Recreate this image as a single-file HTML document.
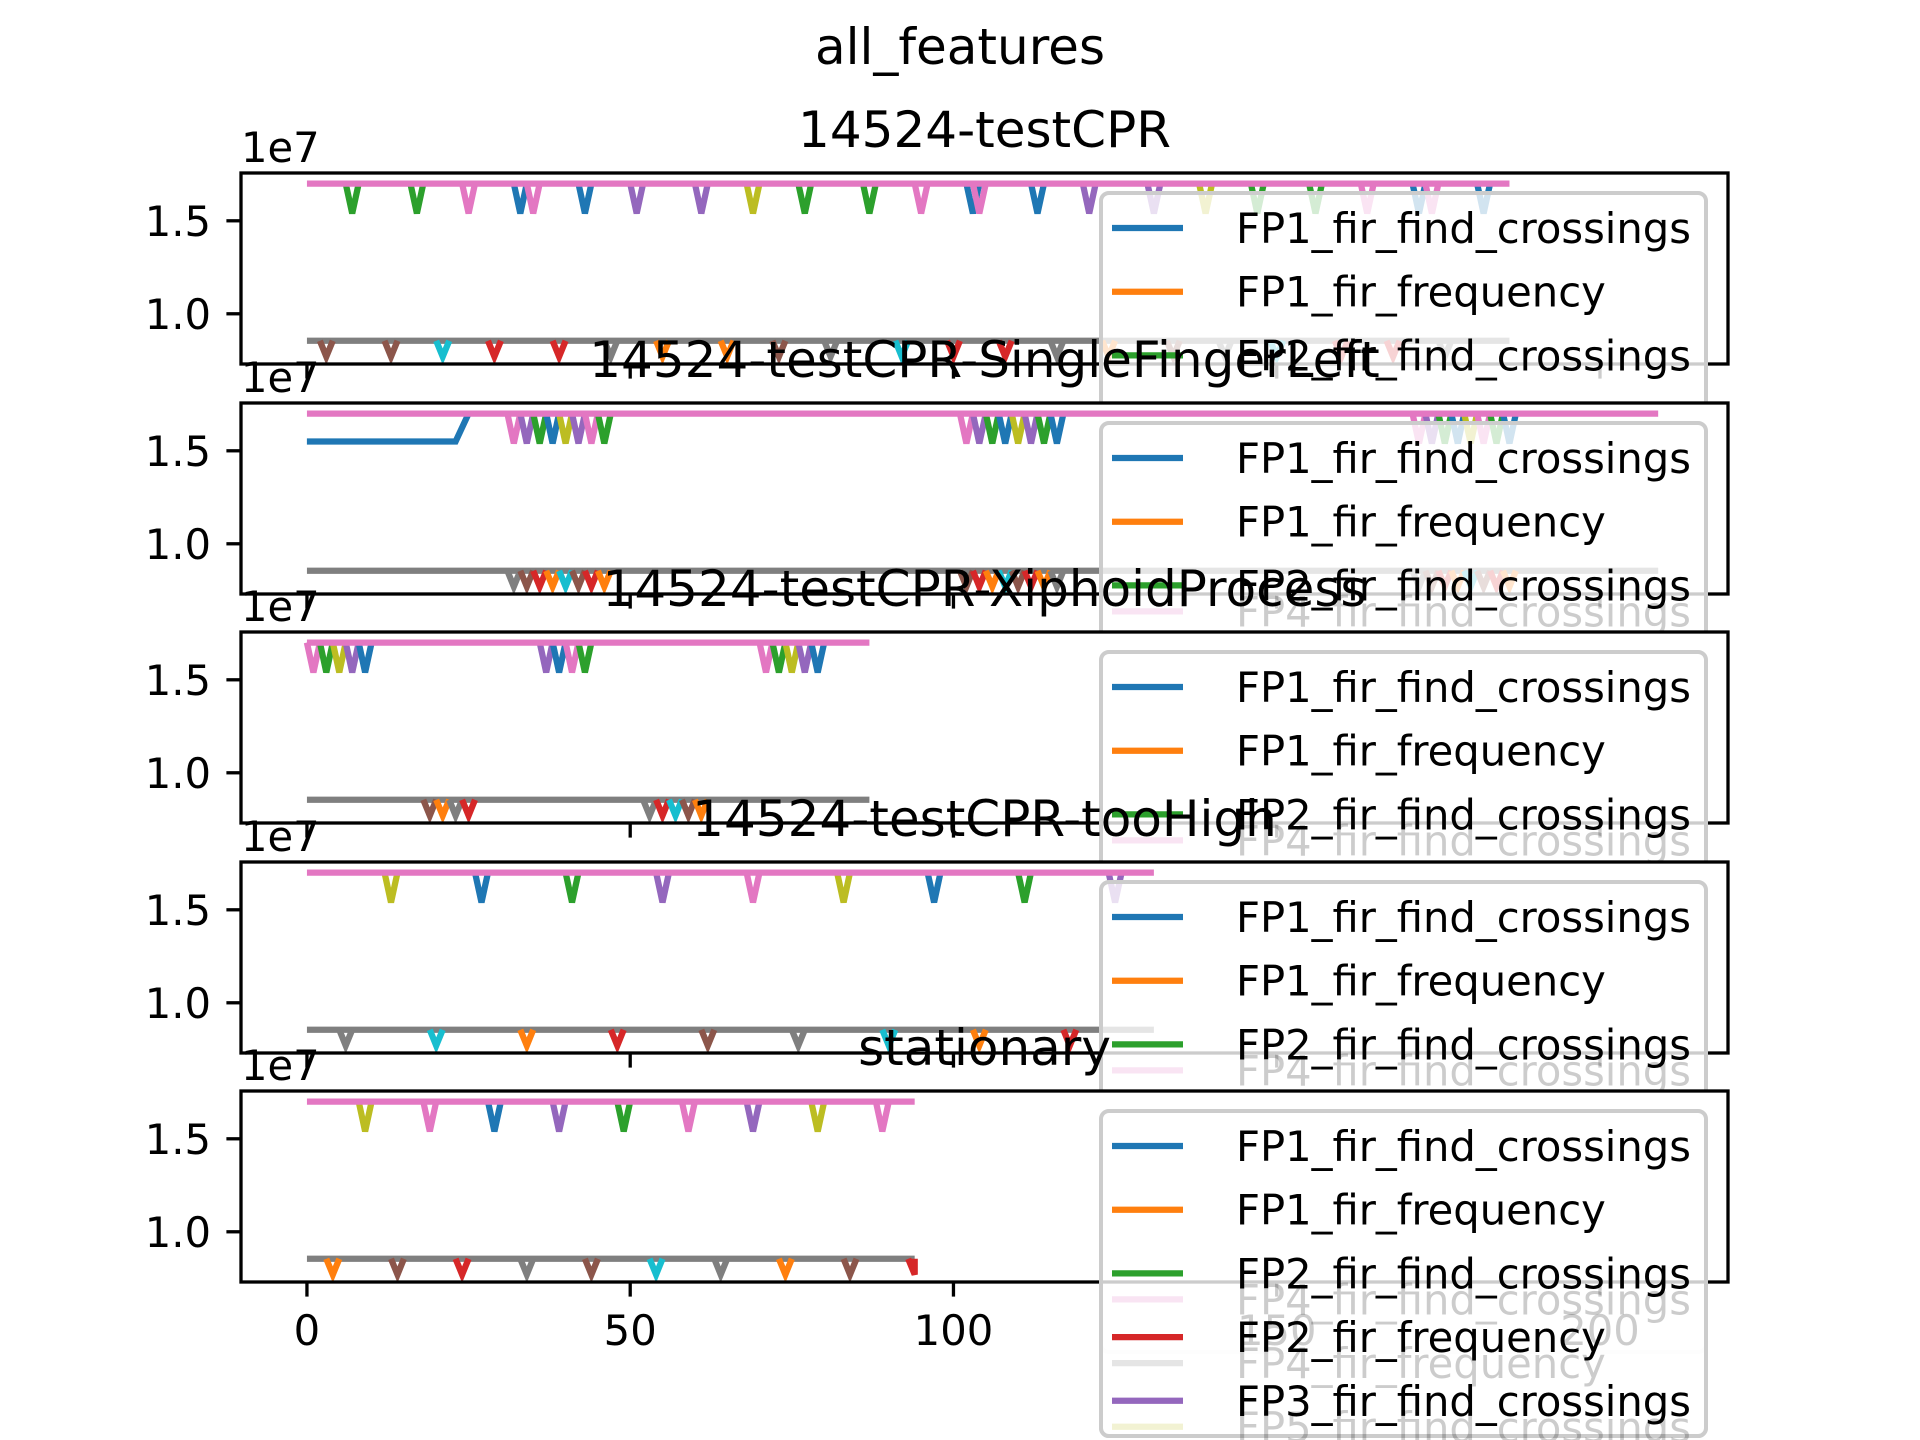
<!DOCTYPE html>
<html><head><meta charset="utf-8"><style>
html,body{margin:0;padding:0;background:#fff;width:1920px;height:1440px;overflow:hidden;}
svg{display:block;font-family:"DejaVu Sans","Liberation Sans",sans-serif;}
</style></head><body>
<svg id="fig" width="1920" height="1440" viewBox="0 0 1920 1440" xmlns="http://www.w3.org/2000/svg" overflow="hidden">
<rect x="0" y="0" width="1920" height="1440" fill="#fff"/>
<text x="960" y="64" font-size="50" text-anchor="middle">all_features</text>
</svg>
<script>
// ---- data ----
const panelTitles = ["14524-testCPR","14524-testCPR-SingleFingerLeft","14524-testCPR-XiphoidProcess","14524-testCPR-tooHigh","stationary"];
const panelLengths = [187, 210, 88, 132, 95];
const topLevel = 1.70, topDip = 1.54, botLevel = 0.855, botDip = 0.77; // x1e7
const p1TopX = [7,17,25,33,35,43,51,61,69,77,87,95,103,104,113,121,131,139,147,156,164,172,174,182];
const p1TopC = ["green","green","pink","blue","pink","blue","purple","purple","olive","green","green","pink","blue","pink","blue","purple","purple","olive","green","green","pink","blue","pink","blue"];
const p1BotX = [3,13,21,29,39,47,55,65,73,81,92,100,108,116,124,134,142,150,160,168,176];
const p1BotC = ["brown","brown","cyan","red","red","gray","orange","orange","brown","gray","cyan","red","red","gray","orange","brown","gray","cyan","red","red","gray"];
const p2TopX = [32,34,36,38,40,42,44,46,102,104,106,108,110,112,114,116,172,174,176,178,180,182,184,186];
const p2TopC = ["pink","purple","green","blue","olive","purple","pink","green","pink","purple","green","blue","olive","purple","green","blue","pink","purple","green","blue","olive","pink","green","blue"];
const p2BotX = [32,34,36,38,40,42,44,46,102,104,106,108,110,112,114,116,172,174,176,178,180,182,184,186];
const p2BotC = ["gray","brown","red","orange","cyan","brown","red","orange","brown","red","orange","cyan","brown","red","orange","gray","gray","brown","red","orange","cyan","brown","red","orange"];
const p3TopX = [1,3,5,7,9,37,39,41,43,71,73,75,77,79];
const p3TopC = ["pink","green","olive","purple","blue","purple","blue","pink","green","pink","green","olive","purple","blue"];
const p3BotX = [19,21,23,25,53,55,57,59,61];
const p3BotC = ["brown","orange","gray","red","gray","red","cyan","brown","orange"];
const p4TopX = [13,27,41,55,69,83,97,111,125];
const p4TopC = ["olive","blue","green","purple","pink","olive","blue","green","purple"];
const p4BotX = [6,20,34,48,62,76,90,104,118];
const p4BotC = ["gray","cyan","orange","red","brown","gray","cyan","orange","red"];
const p5TopX = [9,19,29,39,49,59,69,79,89];
const p5TopC = ["olive","pink","blue","purple","green","pink","purple","olive","pink"];
const p5BotX = [4,14,24,34,44,54,64,74,84,94];
const p5BotC = ["orange","brown","red","gray","brown","cyan","gray","orange","brown","red"];
const yTicks = [1.0, 1.5];
const yTickLabels = ["1.0","1.5"];
const xTicks = [0, 50, 100, 150, 200];
const xTickLabels = ["0","50","100","150","200"];
const legendLabels = ["FP1_fir_find_crossings","FP1_fir_frequency","FP2_fir_find_crossings","FP2_fir_frequency","FP3_fir_find_crossings"];
const legendColors = ["blue","orange","green","red","purple"];
const fadedLabels = ["FP4_fir_find_crossings","FP4_fir_frequency","FP5_fir_find_crossings"];
const fadedColors = ["pink","gray","olive"];

// ---- layout ----
const COL = {blue:"#1f77b4",orange:"#ff7f0e",green:"#2ca02c",red:"#d62728",purple:"#9467bd",brown:"#8c564b",pink:"#e377c2",gray:"#7f7f7f",olive:"#bcbd22",cyan:"#17becf"};
const AX_L = 241, AX_R = 1728, AX_H = 191;
const TOPS = [173, 403, 632, 862, 1091];
const XMIN = -10.2, XMAX = 219.8, YMIN = 0.73, YMAX = 1.757;
const NS = "http://www.w3.org/2000/svg";
const svg = document.getElementById("fig");
function xs(d){ return AX_L + (d - XMIN) / (XMAX - XMIN) * (AX_R - AX_L); }
function ys(v, top){ return top + (YMAX - v) / (YMAX - YMIN) * AX_H; }
function mk(tag, attrs, parent){
  const e = document.createElementNS(NS, tag);
  for (const k in attrs) e.setAttribute(k, attrs[k]);
  (parent || svg).appendChild(e);
  return e;
}
const tops = [[p1TopX,p1TopC],[p2TopX,p2TopC],[p3TopX,p3TopC],[p4TopX,p4TopC],[p5TopX,p5TopC]];
const bots = [[p1BotX,p1BotC],[p2BotX,p2BotC],[p3BotX,p3BotC],[p4BotX,p4BotC],[p5BotX,p5BotC]];

for (let p = 0; p < 5; p++){
  const top = TOPS[p];
  const g = mk("g", {});
  
  
  const bg = mk("rect", {x:AX_L, y:top, width:AX_R-AX_L, height:AX_H, fill:"#fff"}, g);
  
  
  const N = panelLengths[p];
  const bl = mk("line", {x1:xs(0), x2:xs(N-1), y1:ys(botLevel,top), y2:ys(botLevel,top), stroke:COL.gray, "stroke-width":6.25}, g);
  
  
  const drawDips = (xsArr, csArr, lvl, dip, nm) => {
    for (let i = 0; i < xsArr.length; i++){
      const d = xsArr[i];
      const pts = [[Math.max(0,d-1),lvl],[d,dip],[Math.min(N-1,d+1),lvl]].map(q => xs(q[0]).toFixed(1)+","+ys(q[1],top).toFixed(1)).join(" ");
      const pl = mk("polyline", {points:pts, fill:"none", stroke:COL[csArr[i]], "stroke-width":6.25, "stroke-linejoin":"miter"}, g);
      
      
    }
  };
  drawDips(bots[p][0], bots[p][1], botLevel, botDip, 'frequency');
  if (p === 1){
    const pts = [[0,1.55],[23,1.55],[25,topLevel]].map(q => xs(q[0]).toFixed(1)+","+ys(q[1],top).toFixed(1)).join(" ");
    const s = mk("polyline", {points:pts, fill:"none", stroke:COL.blue, "stroke-width":6.25}, g);
    
    
  }
  drawDips(tops[p][0], tops[p][1], topLevel, topDip, 'crossings');
  const tl = mk("line", {x1:xs(0), x2:xs(N-1), y1:ys(topLevel,top), y2:ys(topLevel,top), stroke:COL.pink, "stroke-width":6.25}, g);
  
  
  const fr = mk("rect", {x:AX_L, y:top, width:AX_R-AX_L, height:AX_H, fill:"none", stroke:"#000", "stroke-width":3.3}, g);
  
  
  for (let i = 0; i < yTicks.length; i++){
    const y = ys(yTicks[i], top);
    const t = mk("line", {x1:AX_L-14.6, x2:AX_L, y1:y, y2:y, stroke:"#000", "stroke-width":3.3}, g);
    
    
    const lb = mk("text", {x:AX_L-30, y:y+15, "font-size":41.7, "text-anchor":"end"}, g);
    lb.textContent = yTickLabels[i];
    
    
  }
  for (let i = 0; i < xTicks.length; i++){
    const x = xs(xTicks[i]);
    const t = mk("line", {x1:x, x2:x, y1:top+AX_H, y2:top+AX_H+14.6, stroke:"#000", "stroke-width":3.3}, g);
    
    
    if (p === 4){
      const lb = mk("text", {x:x, y:top+AX_H+63, "font-size":41.7, "text-anchor":"middle"}, g);
      lb.textContent = xTickLabels[i];
      
      
    }
  }
  const off = mk("text", {x:AX_L, y:top-11, "font-size":41.7}, g);
  off.textContent = "1e7";
  
  
  const ti = mk("text", {x:(AX_L+AX_R)/2, y:top-26, "font-size":50, "text-anchor":"middle"}, g);
  ti.textContent = panelTitles[p];
  
  
  const lg = mk("g", {}, g);
  
  
  const lgH = Math.min(700, 1436 - (top+20));
  mk("rect", {x:1101, y:top+20, width:605, height:lgH, rx:8, fill:"#fff", "fill-opacity":0.8, stroke:"#ccc", "stroke-width":4}, lg);
  for (let r = 0; r < legendLabels.length; r++){
    const cy = top + 55 + r*63.7;
    const ln = mk("line", {x1:1112, x2:1183, y1:cy, y2:cy, stroke:COL[legendColors[r]], "stroke-width":6.25}, lg);
    
    
    const tx = mk("text", {x:1236, y:cy+15, "font-size":41.7}, lg);
    tx.textContent = legendLabels[r];
    
    
    if (p > 0 && r >= 2 && r-2 < fadedLabels.length){
      const fy = cy + 26;
      const fl = mk("line", {x1:1112, x2:1183, y1:fy, y2:fy, stroke:COL[fadedColors[r-2]], "stroke-width":6.25, "stroke-opacity":0.2}, lg);
      
      
      const ft = mk("text", {x:1236, y:fy+15, "font-size":41.7, fill:"#000", "fill-opacity":0.2}, lg);
      ft.textContent = fadedLabels[r-2];
      
      
    }
  }
}
</script>
</body></html>
